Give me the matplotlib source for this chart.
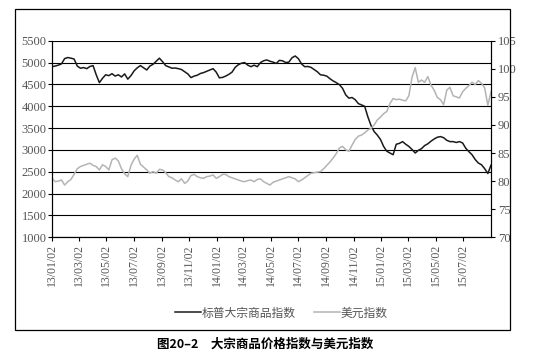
import matplotlib
matplotlib.use('Agg')
import matplotlib.pyplot as plt
import matplotlib.dates as mdates
from matplotlib.patches import Rectangle
import pandas as pd

# weekly observations starting 2013-01-02
start_date = '2013-01-02'
n_weeks = 140

# 标普大宗商品指数 (left axis)
gsci = [4905, 4920, 4940, 4970, 5090, 5115, 5100, 5080, 4920, 4870,
        4885, 4860, 4910, 4930, 4720, 4540, 4640, 4720, 4700, 4745,
        4690, 4720, 4670, 4740, 4620, 4700, 4810, 4880, 4930, 4880,
        4830, 4920, 4960, 5030, 5100, 5020, 4930, 4900, 4870, 4875,
        4860, 4840, 4790, 4740, 4655, 4690, 4710, 4750, 4770, 4800,
        4830, 4860, 4780, 4650, 4660, 4690, 4730, 4780, 4890, 4950,
        4985, 5000, 4940, 4905, 4940, 4905, 5000, 5040, 5060, 5030,
        5010, 4980, 5050, 5040, 5000, 5010, 5110, 5150, 5090, 4970,
        4905, 4910, 4890, 4840, 4790, 4720, 4710, 4690, 4630, 4580,
        4540, 4495, 4410, 4260, 4185, 4200, 4150, 4060, 4030, 4000,
        3760, 3560, 3420, 3340, 3240, 3080, 2970, 2930, 2890, 3130,
        3150, 3190, 3130, 3080, 3010, 2930, 2990, 3030, 3100, 3140,
        3200, 3250, 3290, 3305, 3280, 3220, 3190, 3190, 3170, 3190,
        3160, 3040, 2960, 2890, 2780, 2700, 2660, 2570, 2460, 2650]

# 美元指数 (right axis)
usd = [80.5, 79.9, 80.0, 80.2, 79.3, 79.9, 80.3, 81.2, 82.2, 82.6,
       82.8, 83.0, 83.2, 82.8, 82.6, 82.0, 82.9, 82.6, 82.0, 83.8,
       84.1, 83.6, 82.2, 81.3, 80.8, 82.8, 83.9, 84.6, 83.0, 82.5,
       82.0, 81.4, 81.7, 81.4, 82.1, 82.0, 81.5, 80.8, 80.6, 80.2,
       79.9, 80.4, 79.6, 80.0, 81.0, 81.2, 80.8, 80.6, 80.5, 80.8,
       80.9, 81.1, 80.5, 80.8, 81.2, 81.2, 80.8, 80.6, 80.4, 80.2,
       80.0, 79.9, 80.1, 80.2, 79.9, 80.3, 80.4, 79.9, 79.6, 79.3,
       79.8, 80.0, 80.2, 80.4, 80.6, 80.8, 80.6, 80.4, 79.9, 80.2,
       80.6, 81.0, 81.4, 81.5, 81.6, 81.7, 82.2, 82.8, 83.4, 84.1,
       84.9, 85.9, 86.2, 85.6, 85.3, 86.4, 87.4, 88.0, 88.2, 88.6,
       89.1, 89.4, 90.0, 90.9, 91.4, 92.0, 92.4, 93.8, 94.7, 94.5,
       94.6, 94.4, 94.3, 95.2, 98.5, 100.2, 97.6, 98.0, 97.6, 98.6,
       97.1, 96.2, 94.9, 94.5, 93.6, 96.2, 96.7, 95.2, 95.0, 94.8,
       95.9, 96.5, 97.0, 97.6, 97.2, 97.9, 97.4, 96.6, 93.5, 95.9]

tick_dates = ['2013-01-02', '2013-03-02', '2013-05-02', '2013-07-02', '2013-09-02',
              '2013-11-02', '2014-01-02', '2014-03-02', '2014-05-02', '2014-07-02',
              '2014-09-02', '2014-11-02', '2015-01-02', '2015-03-02', '2015-05-02',
              '2015-07-02']

plt.rcParams['font.family'] = ['Liberation Serif', 'DejaVu Serif']
dates = pd.date_range(start_date, periods=n_weeks, freq='7D')
tick_col = '#555555'
cjk = ['Noto Sans CJK SC', 'DejaVu Sans']

fig = plt.figure(figsize=(5.35, 3.59), dpi=100)
ax = fig.add_axes([52 / 535, 1 - 237.3 / 359, 439 / 535, 196.6 / 359])
ax2 = ax.twinx()

l1, = ax.plot(dates, gsci, color='#1a1a1a', linewidth=1.1, label='标普大宗商品指数')
l2, = ax2.plot(dates, usd, color='#b4b4b4', linewidth=1.1, label='美元指数')

ax.set_ylim(1000, 5500)
ax.set_yticks(range(1000, 5501, 500))
ax2.set_ylim(70, 105)
ax2.set_yticks(range(70, 106, 5))
ax.set_xlim(dates[0], dates[-1])
ax.set_xticks(pd.to_datetime(tick_dates))
ax.xaxis.set_major_formatter(mdates.DateFormatter('%y/%m/%d'))

ax.grid(axis='y', color='black', linewidth=0.8)
ax.set_axisbelow(True)
for a in (ax, ax2):
    a.spines['top'].set_visible(False)
    for s in ('left', 'right', 'bottom'):
        a.spines[s].set_linewidth(0.8)
ax.tick_params(axis='y', length=3, width=0.8, pad=1, labelsize=9, labelcolor=tick_col)
ax2.tick_params(axis='y', length=3, width=0.8, pad=2, labelsize=9, labelcolor=tick_col)
ax.tick_params(axis='x', length=3, width=0.8, pad=2, labelsize=8.5, labelcolor=tick_col,
               labelrotation=90)

leg = fig.legend(handles=[l1, l2], loc='center', bbox_to_anchor=(0.526, 1 - 313 / 359),
                 ncol=2, frameon=False, handlelength=2.2, handletextpad=0.0,
                 columnspacing=1.6, prop={'family': cjk, 'size': 8.5})
for t in leg.get_texts():
    t.set_color(tick_col)

fig.patches.append(Rectangle((15 / 535, 1 - 330 / 359), 495 / 535, 321 / 359,
                             transform=fig.transFigure, fill=False,
                             edgecolor='black', linewidth=0.9))

fig.text(265 / 535, 1 - 344 / 359, '图20–2　大宗商品价格指数与美元指数',
         ha='center', va='center', fontsize=9, fontweight='bold', family=cjk)

fig.savefig('out.png', dpi=100)
